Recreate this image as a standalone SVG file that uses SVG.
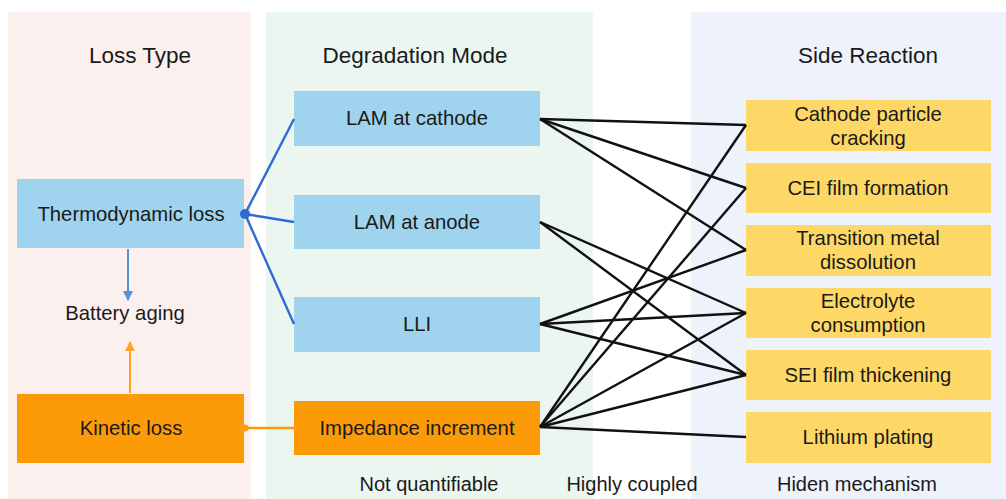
<svg xmlns="http://www.w3.org/2000/svg" width="1006" height="499" viewBox="0 0 1006 499">
  <style>
    text { font-family: "Liberation Sans", Arial, sans-serif; fill: #1a1a1a; text-anchor: middle; }
    .title { font-size: 22.5px; }
    .lbl { font-size: 20.3px; }
    .foot { font-size: 20px; }
    .blue { fill: #9fd3ee; }
    .orange { fill: #fd9a08; }
    .yellow { fill: #fed866; }
    .link { stroke: #111; stroke-width: 2.4; fill: none; }
    .bline { stroke: #2e6bd4; stroke-width: 2.4; fill: none; }
  </style>
  <defs>
    <marker id="arrowBlue" viewBox="0 0 10 10" refX="9" refY="5" markerWidth="10" markerHeight="11" markerUnits="userSpaceOnUse" orient="auto">
      <path d="M0,0 L10,5 L0,10 z" fill="#5b8fe0"/>
    </marker>
    <marker id="arrowOrange" viewBox="0 0 10 10" refX="9" refY="5" markerWidth="10" markerHeight="11" markerUnits="userSpaceOnUse" orient="auto">
      <path d="M0,0 L10,5 L0,10 z" fill="#ffa228"/>
    </marker>
  </defs>

  <rect width="1006" height="499" fill="#ffffff"/>

  <!-- column backgrounds -->
  <g id="columns">
    <rect x="8" y="12" width="243" height="487" fill="#fbf0ee"/>
    <rect x="266" y="12" width="327" height="487" fill="#ecf6f1"/>
    <rect x="691" y="12" width="315" height="487" fill="#eef2fb"/>
    <text class="title" x="140" y="63">Loss Type</text>
    <text class="title" x="415" y="63">Degradation Mode</text>
    <text class="title" x="868" y="63">Side Reaction</text>
  </g>

  <!-- loss type -->
  <g id="thermodynamic-loss">
    <rect class="blue" x="17" y="179" width="227" height="69"/>
    <text class="lbl" x="131" y="221">Thermodynamic loss</text>
  </g>
  <g id="battery-aging">
    <text class="lbl" x="125" y="320">Battery aging</text>
  </g>
  <g id="kinetic-loss">
    <rect class="orange" x="17" y="394" width="227" height="69"/>
    <text class="lbl" x="131" y="435">Kinetic loss</text>
  </g>

  <!-- degradation modes -->
  <g id="lam-cathode">
    <rect class="blue" x="294" y="91" width="246" height="55"/>
    <text class="lbl" x="417" y="125">LAM at cathode</text>
  </g>
  <g id="lam-anode">
    <rect class="blue" x="294" y="195" width="246" height="54"/>
    <text class="lbl" x="417" y="229">LAM at anode</text>
  </g>
  <g id="lli">
    <rect class="blue" x="294" y="297" width="246" height="55"/>
    <text class="lbl" x="417" y="331">LLI</text>
  </g>
  <g id="impedance-increment">
    <rect class="orange" x="294" y="401" width="246" height="54"/>
    <text class="lbl" x="417" y="435">Impedance increment</text>
  </g>

  <!-- side reactions -->
  <g id="cathode-cracking">
    <rect class="yellow" x="746" y="100" width="245" height="51"/>
    <text class="lbl" x="868" y="121">Cathode particle</text>
    <text class="lbl" x="868" y="145">cracking</text>
  </g>
  <g id="cei-film">
    <rect class="yellow" x="746" y="163" width="245" height="50"/>
    <text class="lbl" x="868" y="195">CEI film formation</text>
  </g>
  <g id="tm-dissolution">
    <rect class="yellow" x="746" y="225" width="245" height="51"/>
    <text class="lbl" x="868" y="245">Transition metal</text>
    <text class="lbl" x="868" y="269">dissolution</text>
  </g>
  <g id="electrolyte-consumption">
    <rect class="yellow" x="746" y="288" width="245" height="50"/>
    <text class="lbl" x="868" y="308">Electrolyte</text>
    <text class="lbl" x="868" y="332">consumption</text>
  </g>
  <g id="sei-film">
    <rect class="yellow" x="746" y="350" width="245" height="50"/>
    <text class="lbl" x="868" y="382">SEI film thickening</text>
  </g>
  <g id="lithium-plating">
    <rect class="yellow" x="746" y="412" width="245" height="51"/>
    <text class="lbl" x="868" y="444">Lithium plating</text>
  </g>

  <!-- connectors, drawn over the boxes so the junction dots stay visible -->
  <g id="connectors">
    <line class="bline" x1="245" y1="214" x2="294" y2="119"/>
    <line class="bline" x1="245" y1="214" x2="294" y2="222"/>
    <line class="bline" x1="245" y1="214" x2="294" y2="324"/>
    <circle cx="245" cy="214" r="5" fill="#2e6bd4"/>

    <line x1="128" y1="249" x2="128" y2="300" stroke="#5b8fe0" stroke-width="2" marker-end="url(#arrowBlue)"/>
    <line x1="130" y1="393" x2="130" y2="342" stroke="#ffa228" stroke-width="2" marker-end="url(#arrowOrange)"/>

    <line x1="244" y1="428" x2="294" y2="428" stroke="#fd9a08" stroke-width="2.4"/>
    <circle cx="245" cy="428" r="3.5" fill="#fd9a08"/>

    <!-- LAM at cathode -->
    <line class="link" x1="540" y1="119" x2="746" y2="125"/>
    <line class="link" x1="540" y1="119" x2="746" y2="188"/>
    <line class="link" x1="540" y1="119" x2="746" y2="250"/>
    <!-- LAM at anode -->
    <line class="link" x1="540" y1="222" x2="746" y2="313"/>
    <line class="link" x1="540" y1="222" x2="746" y2="375"/>
    <!-- LLI -->
    <line class="link" x1="540" y1="324" x2="746" y2="250"/>
    <line class="link" x1="540" y1="324" x2="746" y2="313"/>
    <line class="link" x1="540" y1="324" x2="746" y2="375"/>
    <!-- Impedance increment -->
    <line class="link" x1="540" y1="427" x2="746" y2="125"/>
    <line class="link" x1="540" y1="427" x2="746" y2="188"/>
    <line class="link" x1="540" y1="427" x2="746" y2="313"/>
    <line class="link" x1="540" y1="427" x2="746" y2="375"/>
    <line class="link" x1="540" y1="427" x2="746" y2="437"/>
  </g>

  <!-- column footers -->
  <g id="footers">
    <text class="foot" x="429" y="491">Not quantifiable</text>
    <text class="foot" x="632" y="491">Highly coupled</text>
    <text class="foot" x="857" y="491">Hiden mechanism</text>
  </g>
</svg>
